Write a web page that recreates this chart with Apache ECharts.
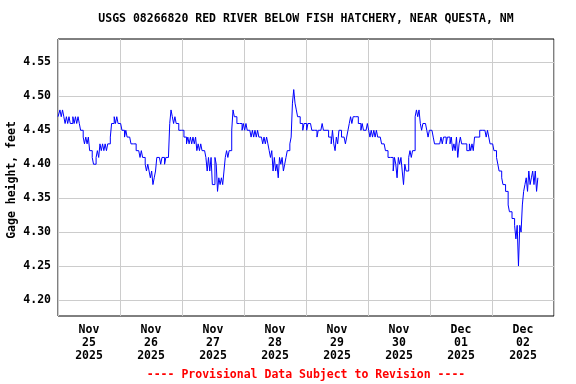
<!DOCTYPE html>
<html>
<head>
<meta charset="utf-8">
<script src="https://cdn.jsdelivr.net/npm/echarts@6/dist/echarts.min.js"></script>
<style>
html,body{margin:0;padding:0;background:#fff;}
#chart{width:576px;height:384px;}
</style>
</head>
<body>
<div id="chart"></div>
<script>
// ---- data (gage height, feet, every 30 minutes from Nov 25 2025 00:00) ----
const titleText = 'USGS 08266820 RED RIVER BELOW FISH HATCHERY, NEAR QUESTA, NM';
const yAxisTitle = 'Gage height, feet';
const footnote = '---- Provisional Data Subject to Revision ----';
const stepHours = 0.5;
const dayMonths = ['Nov','Nov','Nov','Nov','Nov','Nov','Dec','Dec'];
const dayNumbers = ['25','26','27','28','29','30','01','02'];
const dayYears = ['2025','2025','2025','2025','2025','2025','2025','2025'];
const yTicks = [4.20, 4.25, 4.30, 4.35, 4.40, 4.45, 4.50, 4.55];
const gageHeight = [
  // Nov 25
  4.47,4.47,4.48,4.47,4.48,4.47,4.46,4.47,4.46,4.47,
  4.46,4.46,4.47,4.46,4.47,4.46,4.47,4.46,4.45,4.45,
  4.44,4.43,4.44,4.43,4.44,4.42,4.42,4.41,4.40,4.40,
  4.41,4.42,4.41,4.43,4.42,4.43,4.42,4.43,4.42,4.43,
  4.43,4.44,4.46,4.46,4.47,4.46,4.47,4.46,
  // Nov 26
  4.46,4.46,4.45,4.45,4.44,4.45,4.44,4.44,4.44,4.43,
  4.43,4.43,4.43,4.42,4.42,4.42,4.41,4.42,4.41,4.41,
  4.40,4.39,4.40,4.39,4.38,4.39,4.37,4.38,4.39,4.41,
  4.41,4.41,4.40,4.41,4.41,4.40,4.41,4.41,4.41,4.46,
  4.48,4.47,4.46,4.47,4.46,4.46,4.45,4.45,
  // Nov 27
  4.45,4.45,4.44,4.44,4.43,4.44,4.43,4.44,4.43,4.44,
  4.43,4.44,4.42,4.43,4.42,4.43,4.42,4.42,4.42,4.41,
  4.39,4.41,4.39,4.41,4.37,4.37,4.41,4.40,4.36,4.38,
  4.37,4.38,4.37,4.39,4.41,4.42,4.41,4.42,4.42,4.45,
  4.48,4.47,4.47,4.46,4.46,4.46,4.46,4.45,
  // Nov 28
  4.46,4.45,4.46,4.45,4.45,4.45,4.44,4.45,4.44,4.45,
  4.44,4.45,4.44,4.44,4.44,4.43,4.44,4.43,4.44,4.43,
  4.42,4.41,4.42,4.39,4.41,4.39,4.40,4.38,4.41,4.40,
  4.41,4.39,4.40,4.41,4.42,4.42,4.43,4.44,4.49,4.51,
  4.49,4.48,4.47,4.47,4.46,4.46,4.45,4.46,
  // Nov 29
  4.46,4.45,4.46,4.46,4.46,4.45,4.45,4.45,4.45,4.44,
  4.45,4.45,4.45,4.46,4.45,4.45,4.45,4.45,4.44,4.44,
  4.43,4.45,4.43,4.42,4.44,4.43,4.45,4.45,4.44,4.44,
  4.44,4.43,4.44,4.45,4.46,4.47,4.46,4.47,4.47,4.47,
  4.47,4.46,4.46,4.45,4.46,4.45,4.45,4.45,
  // Nov 30
  4.46,4.45,4.44,4.45,4.44,4.45,4.44,4.45,4.44,4.44,
  4.44,4.43,4.43,4.43,4.42,4.42,4.41,4.41,4.41,4.41,
  4.39,4.41,4.40,4.38,4.41,4.40,4.41,4.39,4.37,4.40,
  4.39,4.39,4.41,4.42,4.41,4.42,4.42,4.47,4.48,4.47,
  4.48,4.46,4.45,4.46,4.46,4.46,4.45,4.44,
  // Dec 01
  4.45,4.45,4.45,4.44,4.43,4.43,4.43,4.43,4.43,4.44,
  4.43,4.44,4.44,4.43,4.44,4.44,4.43,4.44,4.42,4.43,
  4.42,4.44,4.41,4.43,4.44,4.43,4.43,4.43,4.43,4.42,
  4.42,4.43,4.42,4.43,4.42,4.44,4.44,4.44,4.44,4.45,
  4.45,4.45,4.45,4.45,4.44,4.45,4.44,4.43,
  // Dec 02
  4.43,4.43,4.42,4.42,4.41,4.40,4.39,4.39,4.38,4.37,
  4.37,4.36,4.36,4.34,4.33,4.33,4.32,4.32,4.31,4.29,
  4.31,4.25,4.31,4.30,4.34,4.36,4.37,4.38,4.36,4.39,
  4.37,4.38,4.39,4.37,4.39,4.36,4.38
];

const dayMidnights = [0, 24, 48, 72, 96, 120, 144, 168, 192];
const dayNoons = [12, 36, 60, 84, 108, 132, 156, 180];

const FONT = 'bold 11.5px "DejaVu Sans Mono", monospace';
const chart = echarts.init(document.getElementById('chart'), null, {renderer: 'canvas'});

chart.setOption({
  animation: false,
  backgroundColor: '#ffffff',
  grid: {
    left: 58, right: 22, top: 39, bottom: 68,
    show: true, borderColor: '#000000', borderWidth: 1, backgroundColor: 'transparent'
  },
  xAxis: {
    type: 'value',
    min: 0, max: 192,
    axisLine: {show: false},
    axisTick: {show: false, customValues: dayMidnights},
    splitLine: {show: true, lineStyle: {color: '#cccccc', width: 1}},
    axisLabel: {
      customValues: dayNoons,
      margin: 8,
      lineHeight: 13,
      fontFamily: '"DejaVu Sans Mono", monospace',
      fontWeight: 'bold',
      fontSize: 11.5,
      color: '#000000',
      formatter: function (v) {
        const i = Math.round((v - 12) / 24);
        return dayMonths[i] + '\n' + dayNumbers[i] + '\n' + dayYears[i];
      }
    }
  },
  yAxis: {
    type: 'value',
    min: 4.1764, max: 4.5845,
    axisLine: {show: false},
    axisTick: {show: false, customValues: yTicks},
    splitLine: {show: true, lineStyle: {color: '#cccccc', width: 1}},
    axisLabel: {
      customValues: yTicks,
      margin: 7,
      fontFamily: '"DejaVu Sans Mono", monospace',
      fontWeight: 'bold',
      fontSize: 11.5,
      color: '#000000',
      formatter: function (v) { return v.toFixed(2); }
    }
  },
  series: [{
    type: 'line',
    step: 'middle',
    data: gageHeight.map((v, i) => [i * stepHours, v]),
    showSymbol: false,
    symbol: 'none',
    lineStyle: {color: '#0000ff', width: 1},
    clip: true,
    silent: true
  }],
  graphic: [
    {type: 'text', x: 306, y: 19, silent: true,
     style: {text: titleText, font: FONT, fill: '#000000', align: 'center', verticalAlign: 'middle'}},
    {type: 'text', x: 306, y: 375, silent: true,
     style: {text: footnote, font: FONT, fill: '#ff0000', align: 'center', verticalAlign: 'middle'}},
    {type: 'text', x: 12, y: 180, rotation: Math.PI / 2, silent: true,
     style: {text: yAxisTitle, font: FONT, fill: '#000000', align: 'center', verticalAlign: 'middle'}}
  ]
});
</script>
</body>
</html>
